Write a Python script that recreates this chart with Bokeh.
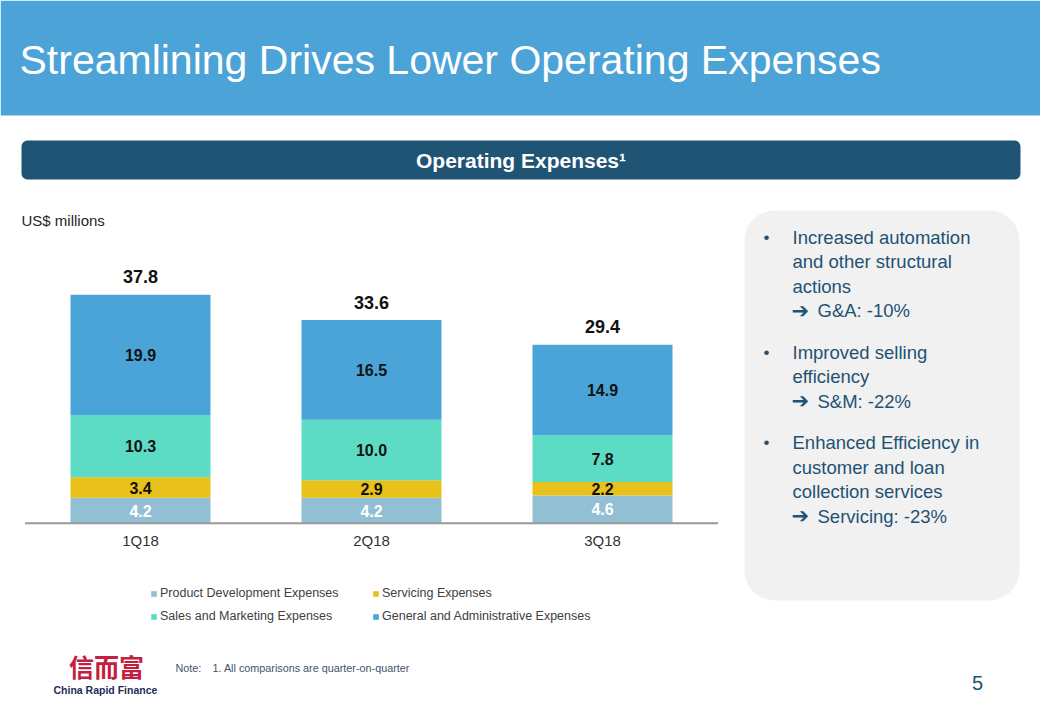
from bokeh.plotting import figure
from bokeh.models import Range1d, Label, BoxAnnotation, Legend, LegendItem, ColumnDataSource
from bokeh.core.properties import value
from bokeh.embed import file_html
from bokeh.resources import INLINE

# ---------------- data ----------------
categories = ["1Q18", "2Q18", "3Q18"]
series_names = ["Product Development Expenses", "Servicing Expenses",
                "Sales and Marketing Expenses", "General and Administrative Expenses"]
product_dev = [4.2, 4.2, 4.6]
servicing = [3.4, 2.9, 2.2]
sales_marketing = [10.3, 10.0, 7.8]
general_admin = [19.9, 16.5, 14.9]
totals = [37.8, 33.6, 29.4]

title_text = "Streamlining Drives Lower Operating Expenses"
subtitle_text = "Operating Expenses\u00b9"
unit_text = "US$ millions"
bullets = [
    (["Increased automation", "and other structural", "actions"], "G&A: -10%"),
    (["Improved selling", "efficiency"], "S&M: -22%"),
    (["Enhanced Efficiency in", "customer and  loan", "collection services"], "Servicing: -23%"),
]
note_label = "Note:"
note_text = "1. All comparisons are quarter-on-quarter"
logo_cn = "信而富"
logo_en = "China Rapid Finance"
page_number = "5"

# ---------------- style / layout ----------------
FONT = "Liberation Sans"
seg_colors = ["#93BFD4", "#E9C11B", "#5CDCC4", "#4BA4D7"]
seg_text_colors = ["#FFFFFF", "#111111", "#111111", "#111111"]
HEADER = "#4BA3D8"
DARK = "#1F5474"
TEXT_BLUE = "#1F5273"

W, H = 1040, 720
OX, OY = 0, 0                     # data coords == reference pixel coords
CAT0, CAT_STEP = 140.0, 231.0     # pixel centre of first category, spacing
BASE_Y, PPU = 522.7, 6.045        # baseline pixel, pixels per US$ million

p = figure(width=W, height=H, output_backend="svg", toolbar_location=None,
           x_range=Range1d(OX, OX + W), y_range=Range1d(OY + H, OY),
           x_axis_location=None, y_axis_location=None, min_border=0,
           outline_line_color=None, background_fill_color="white",
           border_fill_color="white")
p.grid.visible = False
p.extra_x_ranges = {"cat": Range1d((OX - CAT0) / CAT_STEP, (OX + W - CAT0) / CAT_STEP)}
p.extra_y_ranges = {"val": Range1d((BASE_Y - (OY + H)) / PPU, (BASE_Y - OY) / PPU)}

# ---------------- decorations ----------------
p.add_layout(BoxAnnotation(left=0, right=1040, top=0, bottom=115, fill_color=HEADER,
                           fill_alpha=1, line_color=None, level="underlay"))
p.add_layout(BoxAnnotation(left=21, right=1020, top=140, bottom=179, fill_color=DARK,
                           fill_alpha=1, line_color=None, border_radius=6, level="underlay"))
p.add_layout(BoxAnnotation(left=744, right=1019, top=210, bottom=600, fill_color="#F1F1F1",
                           fill_alpha=1, line_color=None, border_radius=30, level="underlay"))


def lab(x, y, text, size, color, font=FONT, bold=False, align="left"):
    p.add_layout(Label(x=x, y=y, text=text, text_font=font, text_font_size=size,
                       text_font_style="bold" if bold else "normal", text_color=color,
                       text_align=align, text_baseline="middle"))


lab(19, 59.5, title_text, "41px", "white")
lab(520.5, 160, subtitle_text, "21px", "white", bold=True, align="center")
lab(21, 220, unit_text, "15px", "#262626")

# right panel bullets (y = visual centre of each line)
y = 236.5
for lines, result in bullets:
    lab(763, y, "\u2022", "17px", TEXT_BLUE)
    for ln in lines:
        lab(792, y, ln, "18.5px", TEXT_BLUE)
        y += 24.5
    lab(791, y, "\u2794", "21px", TEXT_BLUE, font="DejaVu Sans", bold=True)
    lab(817, y, result, "18.5px", TEXT_BLUE)
    y += 41.5

# footer
lab(106, 665.5, logo_cn, "25px", "#C2203E", font="Noto Sans CJK SC", bold=True, align="center")
lab(53, 689, logo_en, "10.5px", "#1F2D5A", bold=True)
lab(175, 667, note_label, "10.8px", "#44546A")
lab(212, 667, note_text, "10.8px", "#44546A")
lab(977, 682.5, page_number, "20px", TEXT_BLUE, align="center")

# ---------------- bar chart ----------------
n = len(categories)
xs = list(range(n))
keys = ["pd", "sv", "sm", "ga"]
series = [product_dev, servicing, sales_marketing, general_admin]
src = ColumnDataSource(dict(x=xs, **{k: v for k, v in zip(keys, series)}))
renderers = p.vbar_stack(keys, x="x", width=0.606, source=src, fill_color=seg_colors,
                         line_color=None, x_range_name="cat", y_range_name="val")

# baseline (category axis line)
p.segment(x0=[-0.5], x1=[n - 0.5], y0=[0], y1=[0], line_color="#999999", line_width=2,
          x_range_name="cat", y_range_name="val")

# segment labels
seg_x, seg_y, seg_t, seg_c = [], [], [], []
tops = []
for i in range(n):
    base = 0.0
    for vals, tc in zip(series, seg_text_colors):
        v = vals[i]
        seg_x.append(i)
        seg_y.append(base + v / 2)
        seg_t.append(f"{v:.1f}")
        seg_c.append(tc)
        base += v
    tops.append(base)
p.text(x="x", y="y", text="t", text_color="c",
       source=ColumnDataSource(dict(x=seg_x, y=seg_y, t=seg_t, c=seg_c)),
       text_font=value(FONT), text_font_size="16px", text_font_style="bold",
       text_align="center", text_baseline="middle", x_range_name="cat", y_range_name="val")

# totals above bars
p.text(x=xs, y=tops, text=[f"{t:.1f}" for t in totals], text_color="#111111",
       text_font=value(FONT), text_font_size="18px", text_font_style="bold",
       text_align="center", text_baseline="middle", y_offset=-18,
       x_range_name="cat", y_range_name="val")

# category labels
p.text(x=xs, y=[0] * n, text=categories, text_color="#333333",
       text_font=value(FONT), text_font_size="15px",
       text_align="center", text_baseline="middle", y_offset=17.5,
       x_range_name="cat", y_range_name="val")

# legends (two columns)
def make_legend(idx, loc):
    lg = Legend(items=[LegendItem(label=series_names[i], renderers=[renderers[i]]) for i in idx],
                location=loc, orientation="vertical", glyph_width=7, glyph_height=7,
                label_standoff=3, label_height=16, spacing=7, padding=0, margin=0,
                label_text_font=FONT, label_text_font_size="12.5px", label_text_color="#404040",
                border_line_alpha=0, background_fill_alpha=0)
    p.add_layout(lg)

make_legend([0, 2], (150, 96))
make_legend([1, 3], (372, 96))

open("out.html", "w").write(file_html(p, INLINE))
